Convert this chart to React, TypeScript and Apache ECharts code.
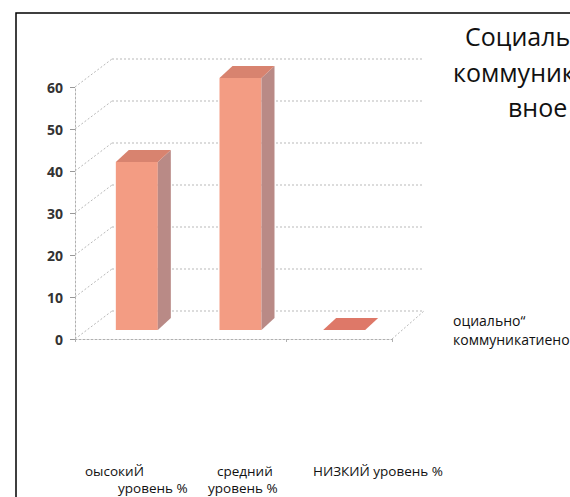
import React, { useEffect, useRef } from "react";
import * as echarts from "echarts";

const categories = ["оысокиЙ уровень %", "средний уровень %", "НИЗКИЙ уровень %"];
const categoryLines = [["оысокиЙ", "уровень %"], ["средний", "уровень %"], ["НИЗКИЙ уровень %"]];
const values = [40, 60, 0];
const yTicks = [0, 10, 20, 30, 40, 50, 60];
const titleLines = ["Социально-", "коммуникати", "вное"];
const legendLines = ["оциально“", "коммуникатиено"];

const FONT = "'Open Sans', 'Noto Sans', sans-serif";
const WALL = [37, -28];
const BAR_OFF = [9, -9];
const BAR_DEPTH = [13, -12];
const BAR_W = 42;

export default function App() {
  const ref = useRef<HTMLDivElement>(null);
  useEffect(() => {
    const chart = echarts.init(ref.current!, null, { renderer: "svg" });
    const gridStyle = { stroke: "#b9b9b9", lineWidth: 1, lineDash: [2, 2], fill: null };

    const labelPos = [
      [[85, 471], [118, 488]],
      [[217, 471], [208, 488]],
      [[313, 471]],
    ];
    const catTexts: any[] = [];
    categoryLines.forEach((lines, i) => {
      lines.forEach((t, j) => {
        catTexts.push({
          type: "text",
          x: labelPos[i][j][0],
          y: labelPos[i][j][1],
          style: { text: t, font: `13.5px ${FONT}`, fill: "#111", textVerticalAlign: "middle" },
        });
      });
    });
    const titlePos = [[465, 36], [453, 72], [508, 107]];
    const titleTexts = titleLines.map((t, i) => ({
      type: "text",
      x: titlePos[i][0],
      y: titlePos[i][1],
      style: { text: t, font: `25px ${FONT}`, fill: "#111", textVerticalAlign: "middle" },
    }));
    const legendPos = [[453, 320], [453, 339]];
    const legendTexts = legendLines.map((t, i) => ({
      type: "text",
      x: legendPos[i][0],
      y: legendPos[i][1],
      style: { text: t, font: `14px ${FONT}`, fill: "#111", textVerticalAlign: "middle" },
    }));

    chart.setOption({
      animation: false,
      backgroundColor: "#fff",
      grid: { left: 75, right: 178, top: 87, bottom: 158 },
      xAxis: {
        type: "category",
        data: categories,
        axisLine: { show: true, lineStyle: { color: "#b0b0b0", type: [2, 2] } },
        axisTick: { show: true, length: 3, lineStyle: { color: "#b0b0b0" } },
        axisLabel: { show: false },
        splitLine: { show: false },
      },
      yAxis: {
        type: "value",
        min: 0,
        max: 60,
        interval: 10,
        axisLine: { show: true, lineStyle: { color: "#b0b0b0", type: [2, 2] } },
        axisTick: { show: true, length: 5, lineStyle: { color: "#999" } },
        axisLabel: { margin: 12, fontSize: 14, fontWeight: "bold", color: "#333", fontFamily: FONT },
        splitLine: { show: false },
      },
      graphic: [
        {
          type: "rect",
          shape: { x: 16, y: 13, width: 700, height: 700 },
          style: { fill: null, stroke: "#000", lineWidth: 1.5 },
        },
        ...titleTexts,
        ...legendTexts,
        ...catTexts,
      ],
      series: [
        {
          type: "custom",
          silent: true,
          data: yTicks.map((v) => [0, v]),
          encode: { x: 0, y: 1 },
          renderItem: (params: any, api: any) => {
            const cs = params.coordSys;
            const v = api.value(1);
            const y = api.coord([0, v])[1];
            const fx = cs.x;
            const bx = fx + WALL[0];
            const by = y + WALL[1];
            const rx = cs.x + cs.width + 32;
            const children: any[] = [
              { type: "line", shape: { x1: fx, y1: y, x2: bx, y2: by }, style: gridStyle },
              { type: "line", shape: { x1: bx, y1: by, x2: rx, y2: by }, style: gridStyle },
            ];
            if (v === 0) {
              children.push({
                type: "line",
                shape: { x1: cs.x + cs.width, y1: y, x2: rx, y2: by },
                style: gridStyle,
              });
            }
            return { type: "group", children };
          },
          z: 1,
        },
        {
          type: "custom",
          silent: true,
          data: values.map((v, i) => [i, v]),
          encode: { x: 0, y: 1 },
          renderItem: (params: any, api: any) => {
            const i = api.value(0);
            const v = api.value(1);
            const base = api.coord([i, 0]);
            const top = api.coord([i, v]);
            const x0 = base[0] - BAR_W / 2 + BAR_OFF[0] - i * 2;
            const x1 = x0 + BAR_W;
            const yb = base[1] + BAR_OFF[1];
            const yt = top[1] + BAR_OFF[1];
            const dx = BAR_DEPTH[0];
            const dy = BAR_DEPTH[1];
            const children: any[] = [];
            if (yb - yt > 0.5) {
              children.push({
                type: "polygon",
                shape: { points: [[x0, yt], [x1, yt], [x1, yb], [x0, yb]] },
                style: { fill: "#F39C83" },
              });
              children.push({
                type: "polygon",
                shape: { points: [[x1, yt], [x1 + dx, yt + dy], [x1 + dx, yb + dy], [x1, yb]] },
                style: { fill: "#B98A86" },
              });
              children.push({
                type: "polygon",
                shape: { points: [[x0, yt], [x0 + dx, yt + dy], [x1 + dx, yt + dy], [x1, yt]] },
                style: { fill: "#D8836F" },
              });
            } else {
              children.push({
                type: "polygon",
                shape: { points: [[x0, yt], [x0 + dx, yt + dy], [x1 + dx, yt + dy], [x1, yt]] },
                style: { fill: "#DE7868" },
              });
            }
            return { type: "group", children };
          },
          z: 2,
        },
      ],
    });
    return () => chart.dispose();
  }, []);
  return (
    <div
      ref={ref}
      style={{ position: "fixed", left: 0, top: 0, width: 570, height: 497, background: "#fff" }}
    />
  );
}
